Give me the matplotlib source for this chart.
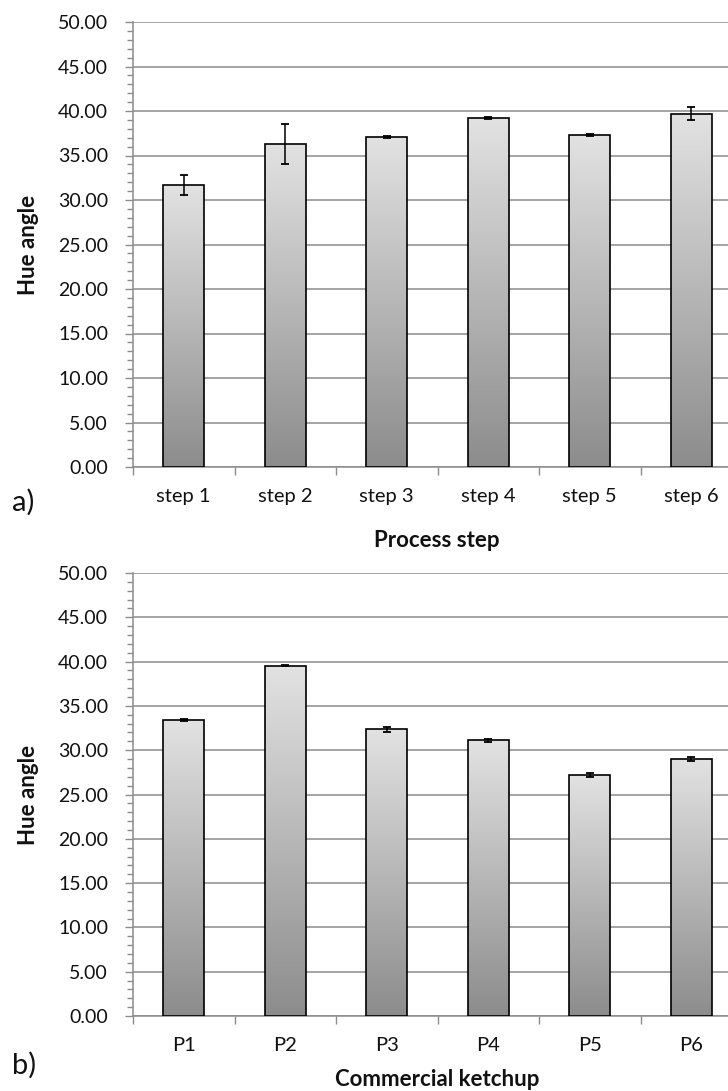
import numpy as np
import matplotlib
matplotlib.use("Agg")
import matplotlib.pyplot as plt
from matplotlib.ticker import MultipleLocator, FormatStrFormatter
from matplotlib.colors import LinearSegmentedColormap

plt.rcParams['font.family'] = ['Lato', 'DejaVu Sans']

# Panel a) hue angle along the process
steps = ["step 1", "step 2", "step 3", "step 4", "step 5", "step 6"]
steps_mean = [31.7, 36.3, 37.1, 39.2, 37.3, 39.7]
steps_err = [1.15, 2.25, 0.12, 0.15, 0.12, 0.72]

# Panel b) commercial ketchups
products = ["P1", "P2", "P3", "P4", "P5", "P6"]
products_mean = [33.45, 39.55, 32.35, 31.1, 27.2, 29.0]
products_err = [0.12, 0.08, 0.28, 0.22, 0.25, 0.25]

W, H = 728, 1091
fig = plt.figure(figsize=(W / 100, H / 100), dpi=100)

grad_cmap = LinearSegmentedColormap.from_list("barfill", ["#8c8c8c", "#e2e2e2"])
grad = np.linspace(0, 1, 256).reshape(-1, 1)
TXT = "#111111"
AXC = "#8c8c8c"


def panel(rect, labels, means, errs, xlabel, xlabel_base, tag, tag_base):
    ax = fig.add_axes(rect)
    x = np.arange(len(labels))
    bars = ax.bar(x, means, width=0.40, color="none", edgecolor="black",
                  linewidth=1.2, zorder=3)
    for b in bars:
        x0, w, h = b.get_x(), b.get_width(), b.get_height()
        im = ax.imshow(grad, cmap=grad_cmap, aspect="auto", origin="lower",
                       extent=(x0, x0 + w, 0, h), zorder=2, interpolation="bilinear")
        im.set_clip_path(b)
    ax.errorbar(x, means, yerr=errs, fmt="none", ecolor="black",
                elinewidth=1.1, capsize=3, capthick=1.3, zorder=4)

    ax.set_xlim(-0.5, len(labels) - 0.5)
    ax.set_ylim(0, 50)
    ax.yaxis.set_major_locator(MultipleLocator(5))
    ax.yaxis.set_minor_locator(MultipleLocator(1))
    ax.yaxis.set_major_formatter(FormatStrFormatter("%.2f"))
    ax.yaxis.grid(True, which="major", color=AXC, linewidth=1.1, zorder=0)
    ax.set_axisbelow(True)

    ax.set_xticks(x)
    ax.set_xticklabels(labels)
    ax.set_xticks(np.arange(len(labels) + 1) - 0.5, minor=True)
    ax.tick_params(axis="x", which="major", length=0, pad=15, labelsize=14.5,
                   colors=TXT)
    ax.tick_params(axis="x", which="minor", length=6, width=1.0, color=AXC)
    ax.tick_params(axis="y", which="major", length=6, width=1.0, color=AXC,
                   labelsize=14, labelcolor=TXT, pad=12)
    ax.tick_params(axis="y", which="minor", length=4, width=1.0, color=AXC)

    for s in ("top", "right"):
        ax.spines[s].set_visible(False)
    for s in ("left", "bottom"):
        ax.spines[s].set_color(AXC)
        ax.spines[s].set_linewidth(1.1)

    fig.text(437 / W, 1 - xlabel_base / H, xlabel, ha="center", va="baseline",
             fontsize=16, fontweight="bold", color=TXT)
    ymid = rect[1] + rect[3] / 2
    fig.text(29 / W, ymid, "Hue angle", ha="center", va="center", rotation=90,
             fontsize=16, fontweight="bold", color=TXT)
    fig.text(12 / W, 1 - tag_base / H, tag, ha="left", va="baseline", fontsize=21,
             color=TXT)
    return ax


left = 133 / W
right = 742 / W
panel([left, 1 - 467 / H, right - left, (467 - 22) / H], steps, steps_mean, steps_err,
      "Process step", 547, "a)", 511)
panel([left, 1 - 1016 / H, right - left, (1016 - 573) / H], products, products_mean,
      products_err, "Commercial ketchup", 1086, "b)", 1074)

fig.savefig("out.png", dpi=100, facecolor="white")
